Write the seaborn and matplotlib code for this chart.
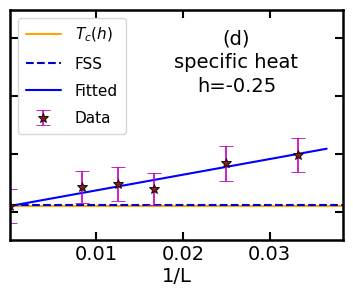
import numpy as np
import pandas as pd
import matplotlib
matplotlib.use("Agg")
import matplotlib.pyplot as plt
import seaborn as sns

# data (y axis has no labels, arbitrary units)
inv_L = [0.0, 1 / 120, 1 / 80, 1 / 60, 1 / 40, 1 / 30]
spec_heat = [0.610, 0.643, 0.648, 0.640, 0.684, 0.698]
spec_err = [0.029, 0.028, 0.029, 0.028, 0.030, 0.029]

fit_x = [0.0, 0.0366]
fit_y = [0.6103, 0.709]

tc_value = 0.6098
fss_value = 0.6115
line_x = [0.0, 0.0385]

sns.set_style("ticks")
plt.rcParams["font.family"] = ["DejaVu Sans"]
plt.rcParams.update({
    "text.color": "black", "axes.labelcolor": "black", "axes.edgecolor": "black",
    "xtick.color": "black", "ytick.color": "black",
})

fig = plt.figure(figsize=(3.53, 3.0), dpi=100)
ax = fig.add_axes([0.028, 0.2, 0.944, 0.767])

sns.lineplot(x=line_x, y=[tc_value] * 2, color="orange", lw=1.5, label=r"$T_c(h)$", ax=ax)
sns.lineplot(x=line_x, y=[fss_value] * 2, color="mediumblue", lw=1.5, ls="--", label="FSS", ax=ax)
sns.lineplot(x=fit_x, y=fit_y, color="blue", lw=1.5, label="Fitted", ax=ax)
ax.errorbar(inv_L, spec_heat, yerr=spec_err, fmt="*", color="m", ecolor="m",
            mfc="#8b1a1a", mec="black", mew=0.6, ms=7, capsize=5, elinewidth=1.2,
            label="Data", clip_on=True)

ax.set_xlim(0, 0.0385)
ax.set_ylim(0.5517, 0.9483)
ax.set_xticks([0.01, 0.02, 0.03])
ax.set_xticklabels(["0.01", "0.02", "0.03"])
ax.set_yticks([0.6, 0.7, 0.8, 0.9])
ax.set_yticklabels([])
ax.tick_params(direction="in", top=True, right=True, length=6, width=1.5, labelsize=14)
for s in ax.spines.values():
    s.set_linewidth(1.8)
ax.set_xlabel("1/L", fontsize=14, labelpad=2)

ax.text(0.68, 0.915, "(d)\nspecific heat\nh=-0.25", transform=ax.transAxes,
        ha="center", va="top", fontsize=14, linespacing=1.32)

ax.legend(loc="upper left", fontsize=11, handlelength=2.3, handletextpad=0.9,
          labelspacing=0.8, borderpad=0.5, borderaxespad=0.55)

fig.savefig("out.png", dpi=100)
